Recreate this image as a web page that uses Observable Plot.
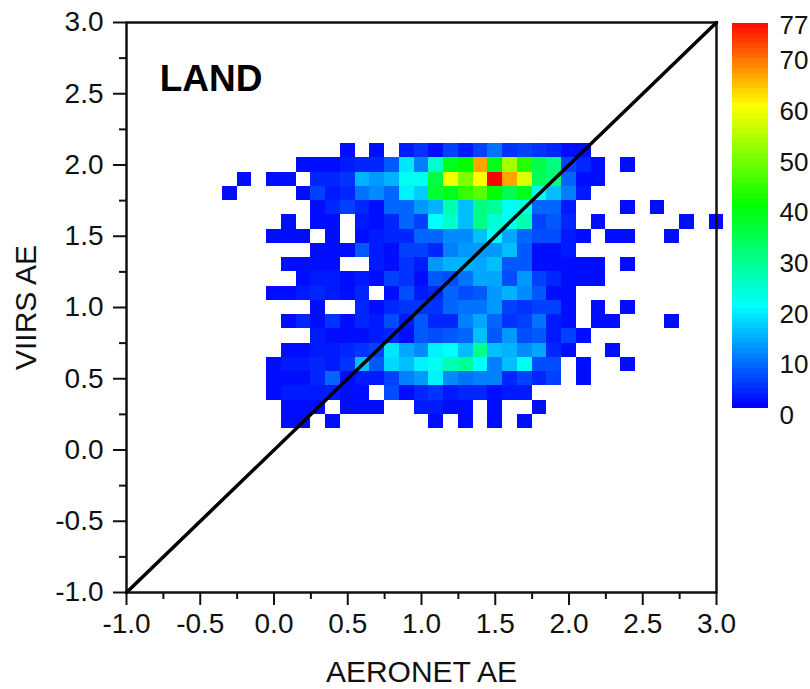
<!DOCTYPE html>
<html>
<head>
<meta charset="utf-8">
<script src="https://cdn.jsdelivr.net/npm/d3@7"></script>
<script src="https://cdn.jsdelivr.net/npm/@observablehq/plot@0.6"></script>
<style>
html,body{margin:0;padding:0;background:#fff;}
#wrap{position:relative;width:810px;height:689px;overflow:hidden;}
#wrap svg{position:absolute;background:transparent;}
</style>
</head>
<body>
<div id="wrap"></div>
<script>
const rowY = [2.1,2.0,1.9,1.8,1.7,1.6,1.5,1.4,1.3,1.2,1.1,1.0,0.9,0.8,0.7,0.6,0.5,0.4,0.3,0.2];
const rowStartX = [0.5,0.2,-0.2,-0.3,0.3,0.1,0.0,0.3,0.1,0.2,0.0,0.3,0.1,0.3,0.1,0.0,0.0,0.0,0.1,0.1];
const rowCounts = [
  [1,0,1,0,2,4,1,5,2,5,9,4,5,4,3,1,1],
  [1,1,1,2,3,3,7,18,10,24,38,40,66,38,53,43,34,30,5,3,1,0,1],
  [1,0,1,1,0,3,3,4,14,12,14,21,21,35,59,50,60,77,66,57,33,31,8,1,1],
  [1,0,0,0,0,1,5,2,3,9,11,8,19,16,36,38,44,47,40,34,38,22,15,10,2],
  [1,3,5,3,1,8,8,12,14,26,15,30,28,21,22,8,8,2,0,0,0,1,0,1],
  [1,0,1,1,0,2,1,3,8,5,20,24,15,30,23,21,26,5,7,3,0,1,0,0,0,0,0,1,0,1],
  [1,1,1,0,1,0,1,2,3,3,8,8,11,11,15,21,13,8,6,6,2,1,0,1,1,0,0,1],
  [1,1,1,7,2,1,5,5,3,10,12,12,12,15,7,1,1,2],
  [1,1,1,1,0,0,2,1,4,2,12,14,14,13,15,7,7,1,1,1,1,1,0,1],
  [1,2,2,1,2,1,5,4,1,7,6,9,13,13,6,12,5,3,1,1,1],
  [1,1,2,3,2,1,3,0,1,6,2,3,8,6,7,12,14,11,7,1,1],
  [1,0,0,3,1,3,4,4,4,8,9,9,12,5,4,5,5,1,0,1,0,1],
  [1,3,1,4,1,3,2,6,2,7,3,3,10,13,8,4,5,9,2,1,0,1,1,0,0,0,1],
  [2,1,1,1,2,3,1,7,6,7,8,15,7,12,6,7,2,5,1],
  [1,1,2,2,3,4,5,18,13,11,19,20,15,29,15,14,11,13,3,1,0,0,1],
  [1,2,2,3,2,4,15,7,17,15,19,21,26,28,20,10,15,21,6,6,0,1,0,0,1],
  [1,1,1,3,8,1,2,2,5,10,12,19,11,9,10,10,3,5,3,5,0,1],
  [1,2,2,2,2,1,1,0,6,1,3,4,2,3,3,1,2,2],
  [1,1,1,0,1,1,1,0,0,2,2,1,1,0,1,0,0,1],
  [1,1,0,1,0,0,0,0,0,0,1,0,1,0,1,0,1]
];
const axisTicks = [-1,-0.5,0,0.5,1,1.5,2,2.5,3];
const minorTicks = [-0.75,-0.25,0.25,0.75,1.25,1.75,2.25,2.75];
const identityLine = [[-1,-1],[3,3]];
const frameLines = [[[-1,3],[3,3]],[[3,-1],[3,3]]];
const panelLabel = [{x:-0.775,y:2.6,text:"LAND"}];
const colorStops = [0,20,40,60,77];
const colorRange = ["#0000ff","#00ffff","#00ff00","#ffff00","#ff0000"];
const barTicks = [0,10,20,30,40,50,60,70,77];
const barLevels = d3.range(0,77);

const cells = rowY.flatMap((y,r)=>rowCounts[r].flatMap((v,i)=>v>0?[{x:rowStartX[r]+i*0.1,y,v}]:[]));
const ink = "#111";
const font = "'Liberation Sans', Arial, sans-serif";
const half = 0.05;
const tickText = d => d.toFixed(1);

const main = Plot.plot({
  width:810,height:689,marginLeft:126,marginRight:94,marginTop:22,marginBottom:97,
  style:{fontFamily:font,fontSize:"30px",color:ink,background:"transparent"},
  x:{domain:[-1,3]},
  y:{domain:[-1,3]},
  color:{type:"linear",domain:colorStops,range:colorRange},
  marks:[
    Plot.rect(cells,{x1:d=>d.x-half,x2:d=>d.x+half,y1:d=>d.y-half,y2:d=>d.y+half,fill:"v",shapeRendering:"crispEdges"}),
    Plot.axisX(axisTicks,{tickSize:13,tickPadding:8,strokeWidth:2,stroke:ink,tickFormat:tickText,label:null,fontSize:28}),
    Plot.axisX(minorTicks,{tickSize:7,strokeWidth:2,stroke:ink,tickFormat:()=>"",label:null}),
    Plot.axisX({ticks:[],label:"AERONET AE",labelAnchor:"center",labelArrow:"none",labelOffset:89,fontSize:30,tickSize:0}),
    Plot.axisY(axisTicks,{tickSize:13,tickPadding:10,strokeWidth:2,stroke:ink,tickFormat:tickText,label:null,fontSize:28}),
    Plot.axisY(minorTicks,{tickSize:7,strokeWidth:2,stroke:ink,tickFormat:()=>"",label:null}),
    Plot.axisY({ticks:[],label:"VIIRS AE",labelAnchor:"center",labelArrow:"none",labelOffset:112,fontSize:30,tickSize:0}),
    Plot.ruleX([-1],{stroke:ink,strokeWidth:2.5}),
    Plot.ruleY([-1],{stroke:ink,strokeWidth:2.5}),
    ...frameLines.map(l=>Plot.line(l,{stroke:ink,strokeWidth:2.5})),
    Plot.line(identityLine,{stroke:"#000",strokeWidth:3.5}),
    Plot.text(panelLabel,{x:"x",y:"y",text:"text",textAnchor:"start",fontSize:37,fontWeight:"bold",fill:"#000"})
  ]
});

const bar = Plot.plot({
  width:36,height:385,margin:0,
  x:{axis:null,domain:[0,1]},
  y:{axis:null,domain:[0,77]},
  color:{type:"linear",domain:colorStops,range:colorRange},
  style:{background:"transparent"},
  marks:[
    Plot.rect(barLevels,{x1:0,x2:1,y1:d=>d,y2:d=>d+1,fill:d=>d,shapeRendering:"crispEdges"})
  ]
});
bar.style.left="732px"; bar.style.top="23px";

const barLabels = Plot.plot({
  width:31,height:440,margin:0,
  x:{axis:null,domain:[0,1]},
  y:{axis:null,domain:[0,77],range:[415,25]},
  style:{fontFamily:font,background:"transparent"},
  marks:[
    Plot.text(barTicks,{x:0,y:d=>d,text:d=>String(d),textAnchor:"start",fontSize:26,fill:ink})
  ]
});
barLabels.style.left="779px"; barLabels.style.top="0px";

const wrap=document.getElementById("wrap");
main.style.left="0px"; main.style.top="0px";
wrap.append(main,bar,barLabels);
</script>
</body>
</html>
